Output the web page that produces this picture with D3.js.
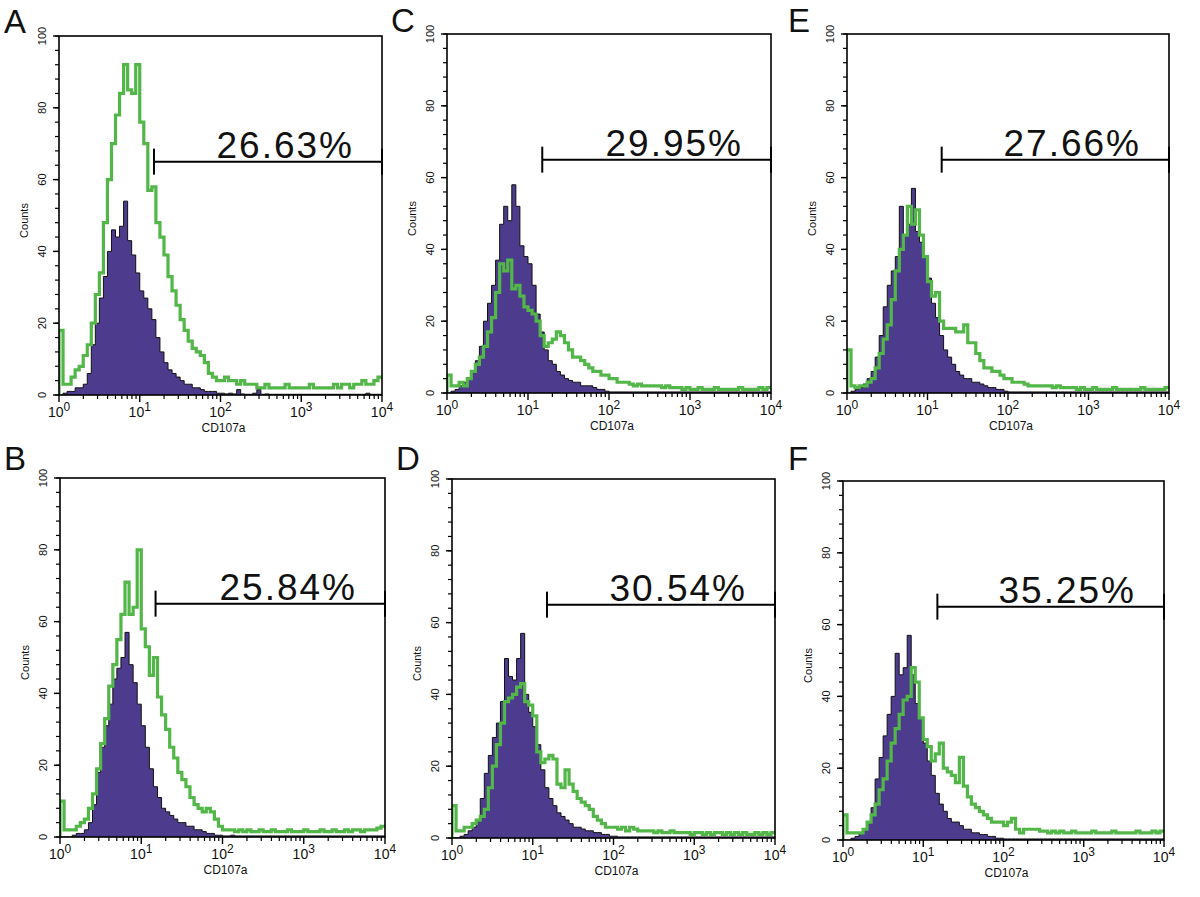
<!DOCTYPE html>
<html><head><meta charset="utf-8">
<script src="https://cdn.jsdelivr.net/npm/d3@7"></script>
<style>body{margin:0;background:#fff} svg{display:block} text{font-family:"Liberation Sans",Arial,Helvetica,sans-serif}</style>
</head><body><svg id="c" width="1200" height="897"></svg>
<script>
// ---------------- data ----------------
const panelIds = ["A","B","C","D","E","F"];
const gatePercents = {A:"26.63%",B:"25.84%",C:"29.95%",D:"30.54%",E:"27.66%",F:"35.25%"};
const gateLow = 15;          // gate start (CD107a)
const gateHigh = 10000;      // gate end
const gateLevel = 65;        // counts level of gate bar
const yTickValues = [0,20,40,60,80,100];
const xTickExponents = [0,1,2,3,4];
const xLabel = "CD107a";
const yLabel = "Counts";
const binWidthLog = 0.05;    // each bin spans 0.05 decade, from 10^0 to 10^4

const purpleA = [0,0.5,1,1,2,2,3,6,14,20,27,33,40,46,44,47,54,43,39,34,29,27,24,21,16,12,9,7,6,5,4,3,3,2,2,1.5,1,1,1,0.5,
  0.5,0.3,0.5,0.3,1.5,0.3,0.2,0.2,0.5,1.5,0.2,0.3,0.2,0.2,0.2,0.2,0.2,0.2,0.2,0.2,0.2,0.2,0.2,0.2,0.2,0.2,0.2,0.2,0.2,0.2,
  0.2,0.2,0.2,0.2,0.2,0.2,0.5,0.2,0.2,0.2];
const greenA = [18,3,3,5,7,8,11,14,20,28,34,48,60,70,78,84,92,85,84,92,76,70,57,58,48,44,39,33,29,25,21,18,15,13,12,11,9,6,5,4,
  4,5,4,4,3,4,3,3,3,2,2,3,2,2,2,2,3,2,2,2,2,2,3,2,2,2,2,2,3,2,3,3,2,3,3,4,3,3,4,5];

const purpleB = [0,0,0,0.5,1,1,2,4,9,18,25,31,37,44,47,50,57,48,43,37,31,25,19,14,11,8,7,6,5,4,4,3,3,2,2,1.5,1,1,0.5,0.5,
  0.3,0.3,0.5,0.3,0.3,0.3,0.3,0.3,0.3,0.3,0.3,0.3,0.3,0.3,0.3,0.3,0.3,0.3,0.3,0.3,0.3,0.3,0.3,0.3,0.3,0.3,0.3,0.3,0.3,0.3,
  0.3,0.3,0.3,0.3,0.3,0.3,0.3,0.3,0.3,0.3];
const greenB = [10,2,2,2,3,4,5,8,12,19,26,33,42,48,55,62,71,62,64,80,58,53,45,50,39,34,30,25,22,18,16,14,11,9,8,7,8,7,5,3,
  2,2,2,1.5,2,1.5,2,1.5,1.5,2,1.5,1.5,2,1.5,1.5,1.5,2,1.5,1.5,1.5,2,1.5,1.5,1.5,2,1.5,1.5,2,1.5,1.5,2,1.5,2,2,1.5,2,2,2,2.5,3];

const purpleC = [0,0.5,1,2,3,4,6,9,13,20,25,30,37,47,52,48,58,52,41,38,36,30,22,17,12,9,8,6,5,4,3.5,3,3,2,2,2,1.5,1,1,0.5,
  0.3,0.3,0.3,0.3,0.3,0.3,0.3,0.3,0.3,0.3,0.3,0.3,0.3,0.3,0.3,0.3,0.3,0.3,0.3,0.3,0.3,0.3,0.3,0.3,0.3,0.3,0.3,0.3,0.3,0.3,
  0.3,0.3,0.3,0.3,0.3,0.3,0.3,0.3,0.3,0.3];
const greenC = [5,2,2,3,2,4,6,8,10,13,17,21,28,36,34,37,29,30,27,24,23,22,20,16,13,14,15,17,16,14,12,10,10,9,8,7,6,6,5,5,
  4,4,3,3,3,2.5,2,2.5,2,2,2,2,2,1.5,2,1.5,1.5,1.5,1,1.5,1,1,1.5,1,1,1,1.5,1,1,1,1,1,1.5,1,1,1,1,1.5,1,1.5];

const purpleD = [0,0,0.5,1,2,3,5,11,18,23,28,32,38,50,45,44,50,57,40,35,31,26,19,14,11,9,7,6,5,4,3,3,2.5,2,2,1.5,1.5,1,1,0.5,
  0.5,0.3,0.3,0.3,0.3,0.3,0.3,0.3,0.3,0.3,0.3,0.3,0.3,0.3,0.3,0.3,0.3,0.3,0.3,0.3,0.3,0.3,0.3,0.3,0.3,0.3,0.3,0.3,0.3,0.3,
  0.3,0.3,0.3,0.3,0.3,0.3,0.3,0.3,0.3,0.3];
const greenD = [9,2,2,3,3,4,5,6,8,14,20,26,32,38,39,40,42,43,38,37,34,24,21,22,23,22,15,14,19,15,13,11,10,9,8,6,5,4,3,3,
  3,2.5,3,2,3,2.5,2,2,2,2,1.5,2,1.5,1.5,2,1.5,1.5,1.5,1.5,1,1.5,1.5,1,1.5,1,1.5,1.5,1,1.5,1,1.5,1,1.5,1,1,1.5,1,1.5,1,1.5];

const purpleE = [0,0.5,1,1.5,2.5,4,6,10,16,24,30,34,38,52,44,47,57,45,42,38,32,25,21,16,12,10,8,6,5,4,4,3,3,2.5,2,1.5,1.5,1,1,0.5,
  0.3,0.3,0.3,0.3,0.3,0.3,0.3,0.3,0.3,0.3,0.3,0.3,0.3,0.3,0.3,0.3,0.3,0.3,0.3,0.3,0.3,0.3,0.3,0.3,0.3,0.3,0.3,0.3,0.3,0.3,
  0.3,0.3,0.3,0.3,0.3,0.3,0.3,0.3,0.3,0.3];
const greenE = [12,2,1.5,2,2,3,4,7,11,15,19,26,34,40,44,52,47,51,44,38,31,27,28,20,18,18,18,17,17,19,14,14,11,9,7,7,6,6,5,4,
  4,3,3,3,2.5,2,2,2,2,2,2,1.5,2,1.5,1.5,1.5,1.5,1,1.5,1,1,1.5,1,1,1,1,1.5,1,1,1,1,1,1,1.5,1,1,1,1,1,1.5];

const purpleF = [0,0,0.5,1,2,3,5,9,17,23,29,35,40,52,46,48,57,46,38,34,27,22,18,13,10,8,6,5,5,4,3,3,2,2,1.5,1.5,1,1,0.5,0.5,
  0.3,0.3,0.3,0.3,0.3,0.3,0.3,0.3,0.3,0.3,0.3,0.3,0.3,0.3,0.3,0.3,0.3,0.3,0.3,0.3,0.3,0.3,0.3,0.3,0.3,0.3,0.3,0.3,0.3,0.3,
  0.3,0.3,0.3,0.3,0.3,0.3,0.3,0.3,0.3,0.3];
const greenF = [7,2,2,2,2,3,5,7,10,14,17,22,27,31,35,39,40,48,44,34,28,26,22,24,27,20,19,18,16,23,15,12,10,9,8,7,6,5,5,5,
  4,5,6,3,2,3,3,3,3,2.5,2.5,2,2.5,2,2.5,2,2,2.5,2,2,2,2,2.5,2,2,2,2,2.5,2,2,2,2,2,2.5,2,2,2,2.5,2,2.5];

const purpleSeries = {A:purpleA,B:purpleB,C:purpleC,D:purpleD,E:purpleE,F:purpleF};
const greenSeries  = {A:greenA,B:greenB,C:greenC,D:greenD,E:greenE,F:greenF};

// ---------------- layout ----------------
const layout = {
  A:{x:59, y:36, w:323, h:359, lx:4,   ly:33},
  B:{x:60, y:478,w:325, h:359, lx:4,   ly:470},
  C:{x:447,y:34, w:324, h:359, lx:391, ly:32},
  D:{x:452,y:479,w:323, h:359, lx:396, ly:470},
  E:{x:847,y:34, w:322, h:359, lx:788, ly:32},
  F:{x:843,y:481,w:321, h:359, lx:788, ly:470}
};
const PURPLE = "#4d3c8e", GREEN = "#52b648";

const svg = d3.select("#c");

panelIds.forEach(id => {
  const L = layout[id];
  const g = svg.append("g").attr("transform", `translate(${L.x},${L.y})`);
  const x = d3.scaleLog().domain([1, 10000]).range([0, L.w]);
  const y = d3.scaleLinear().domain([0, 100]).range([L.h, 0]);

  const clipId = "clip" + id;
  g.append("clipPath").attr("id", clipId).append("rect")
    .attr("x", 0).attr("y", -2).attr("width", L.w).attr("height", L.h + 2);

  const toPts = vals => {
    const pts = [[1, 0]];
    vals.forEach((v, i) => pts.push([Math.pow(10, i * binWidthLog), v]));
    pts.push([10000, vals[vals.length - 1]]);
    return pts;
  };

  const plot = g.append("g").attr("clip-path", `url(#${clipId})`);
  const pP = toPts(purpleSeries[id]);
  plot.append("path").datum(pP)
    .attr("d", d3.area().x(d => x(d[0])).y0(y(0)).y1(d => y(d[1])).curve(d3.curveStepAfter))
    .attr("fill", PURPLE);
  plot.append("path").datum(pP)
    .attr("d", d3.line().x(d => x(d[0])).y(d => y(d[1])).curve(d3.curveStepAfter))
    .attr("fill", "none").attr("stroke", "#111").attr("stroke-width", 1);
  plot.append("path").datum(toPts(greenSeries[id]))
    .attr("d", d3.line().x(d => x(d[0])).y(d => y(d[1])).curve(d3.curveStepAfter))
    .attr("fill", "none").attr("stroke", GREEN).attr("stroke-width", 3.2).attr("stroke-linejoin", "miter");

  // frame
  g.append("rect").attr("x", 0).attr("y", 0).attr("width", L.w).attr("height", L.h)
    .attr("fill", "none").attr("stroke", "#000").attr("stroke-width", 1.6);

  // x axis ticks
  const minor = [];
  for (let d = 0; d < 4; d++) for (let k = 2; k <= 9; k++) minor.push(k * Math.pow(10, d));
  g.selectAll(".xmin").data(minor).enter().append("line")
    .attr("x1", d => x(d)).attr("x2", d => x(d)).attr("y1", L.h).attr("y2", L.h + 4)
    .attr("stroke", "#000").attr("stroke-width", 1.2);
  g.selectAll(".xmaj").data(xTickExponents).enter().append("line")
    .attr("x1", d => x(Math.pow(10, d))).attr("x2", d => x(Math.pow(10, d)))
    .attr("y1", L.h).attr("y2", L.h + 7).attr("stroke", "#000").attr("stroke-width", 1.4);
  const xl = g.selectAll(".xlab").data(xTickExponents).enter().append("text")
    .attr("x", d => x(Math.pow(10, d))).attr("y", L.h + 22)
    .attr("text-anchor", "middle").attr("font-size", 14).attr("fill", "#111");
  xl.append("tspan").text("10");
  xl.append("tspan").attr("font-size", 12).attr("dy", -6).text(d => d);
  g.append("text").attr("x", L.w / 2 + 3).attr("y", L.h + 37).attr("text-anchor", "middle")
    .attr("font-size", 12).attr("fill", "#111").text(xLabel);

  // y axis ticks
  g.selectAll(".ymin").data(d3.range(0, 101, 4)).enter().append("line")
    .attr("x1", -4).attr("x2", 0).attr("y1", d => y(d)).attr("y2", d => y(d))
    .attr("stroke", "#000").attr("stroke-width", 1.2);
  g.selectAll(".ymaj").data(yTickValues).enter().append("line")
    .attr("x1", -6).attr("x2", 0).attr("y1", d => y(d)).attr("y2", d => y(d))
    .attr("stroke", "#000").attr("stroke-width", 1.4);
  g.selectAll(".ylab").data(yTickValues).enter().append("text")
    .attr("transform", d => `translate(${-13},${y(d)}) rotate(-90)`)
    .attr("text-anchor", "middle").attr("font-size", 11).attr("fill", "#111").text(d => d);
  g.append("text").attr("transform", `translate(${-31},${L.h / 2 + 5}) rotate(-90)`)
    .attr("text-anchor", "middle").attr("font-size", 11).attr("fill", "#111").text(yLabel);

  // gate
  const gy = y(gateLevel), gx0 = x(gateLow), gx1 = x(gateHigh);
  g.append("line").attr("x1", gx0).attr("x2", gx1).attr("y1", gy).attr("y2", gy)
    .attr("stroke", "#000").attr("stroke-width", 2);
  [gx0, gx1].forEach(xx => g.append("line").attr("x1", xx).attr("x2", xx)
    .attr("y1", gy - 13).attr("y2", gy + 13).attr("stroke", "#000").attr("stroke-width", 2));
  g.append("text").attr("x", L.w - 28).attr("y", gy - 4).attr("text-anchor", "end")
    .attr("font-size", 37).attr("letter-spacing", 2).attr("fill", "#111").text(gatePercents[id]);

  // panel letter
  svg.append("text").attr("x", L.lx).attr("y", L.ly).attr("font-size", 33)
    .attr("fill", "#111").text(id);
});
</script>
</body></html>
